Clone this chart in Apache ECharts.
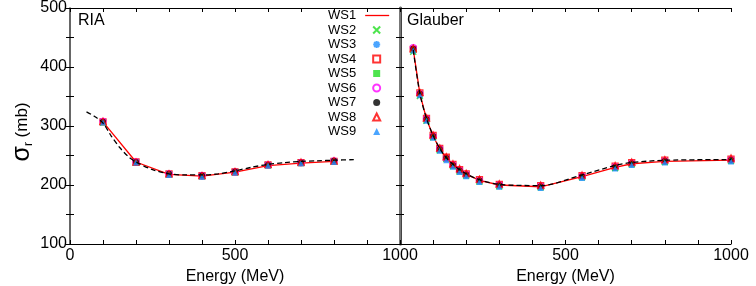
<!DOCTYPE html>
<html><head><meta charset="utf-8">
<script src="https://cdn.jsdelivr.net/npm/echarts@6/dist/echarts.min.js"></script>
<style>html,body{margin:0;padding:0;background:#fff}#c{width:756px;height:286px}</style>
</head><body><div id="c"></div>
<script>
// ---------- data ----------
const seriesNames = ['WS1','WS2','WS3','WS4','WS5','WS6','WS7','WS8','WS9'];
const panelTitles = ['RIA','Glauber'];
const xTitle = 'Energy (MeV)';
const yTickLabels = [100,200,300,400,500];
const leftXTickLabels = [0,500,1000];
const rightXTickLabels = [500,1000];

const riaEnergy = [100,200,300,400,500,600,700,800];
const riaWS1 = [307,239,218,215,222,233,237,240];
const riaWS2 = [306,238,218,215,222,234,238,240];
const riaWS3 = [307,238,218,214,221,233,237,239];
const riaWS4 = [307,239,219,216,222,234,238,240];
const riaWS5 = [306,238,218,215,221,233,237,240];
const riaWS6 = [308,239,219,216,222,234,238,241];
const riaWS7 = [307,239,219,216,223,234,238,241];
const riaWS8 = [308,239,219,216,223,235,239,241];
const riaWS9 = [306,238,217,214,221,233,237,239];

const riaDashEnergy = [50,75,100,125,150,175,200,250,300,350,400,450,500,550,600,650,700,750,800,860];
const riaDashValue  = [324,316,305,283,264,249,239,226,219,217,217,219,224,230,235,238,240,241,242,243];

const glEnergy = [40,60,80,100,120,140,160,180,200,240,300,425,550,650,700,800,1000];
const glWS1 = [430,355,312,283,261,246,234,225,218,208,200,197,214,230,236,240,242];
const glWS2 = [426,351,309,281,259,244,232,223,216,206,198,196,213,229,235,239,241];
const glWS3 = [432,354,311,282,260,244,233,224,216,206,198,196,213,229,235,239,241];
const glWS4 = [430,356,313,284,262,247,235,226,219,209,201,199,216,232,238,242,244];
const glWS5 = [429,353,310,281,259,244,232,223,216,206,198,196,213,229,235,239,241];
const glWS6 = [433,355,312,283,261,245,234,225,218,208,200,198,215,231,237,241,243];
const glWS7 = [431,355,312,283,261,246,234,225,218,208,200,198,215,231,237,241,243];
const glWS8 = [432,357,314,285,263,248,236,228,220,210,202,200,217,233,239,243,246];
const glWS9 = [428,352,309,280,258,242,231,222,215,205,197,195,212,228,234,238,240];

const glDashValue = [429,355,313,284,262,246,235,226,219,209,201,199,217,233,238,242,243];

// ---------- chart ----------
const FONT = 'Liberation Sans';
const RED = '#ff0000', GREEN = '#22dd22', BLUE = '#1e8fff', MAG = '#ff00ff';
const riaSets = [riaWS1,riaWS2,riaWS3,riaWS4,riaWS5,riaWS6,riaWS7,riaWS8,riaWS9];
const glSets = [glWS1,glWS2,glWS3,glWS4,glWS5,glWS6,glWS7,glWS8,glWS9];
const pair = (xs, ys) => xs.map((x, i) => [x, ys[i]]);

const markerStyles = {
  WS2: {symbol:'path://M0,0L10,10M10,0L0,10', itemStyle:{color:'rgba(0,0,0,0)', borderColor:GREEN, borderWidth:1.4}},
  WS3: {symbol:'path://M5,0L5,10M0,5L10,5M1.5,1.5L8.5,8.5M8.5,1.5L1.5,8.5', itemStyle:{color:'rgba(0,0,0,0)', borderColor:BLUE, borderWidth:1.6}},
  WS4: {symbol:'rect', itemStyle:{color:'rgba(255,255,255,0)', borderColor:RED, borderWidth:1.3}},
  WS5: {symbol:'rect', itemStyle:{color:GREEN}},
  WS6: {symbol:'circle', itemStyle:{color:'rgba(255,255,255,0)', borderColor:MAG, borderWidth:1.3}},
  WS7: {symbol:'circle', itemStyle:{color:'#000'}},
  WS8: {symbol:'triangle', itemStyle:{color:'rgba(255,255,255,0)', borderColor:RED, borderWidth:1.3}},
  WS9: {symbol:'triangle', itemStyle:{color:BLUE}}
};

const series = [];
[ [riaEnergy, riaSets, 0], [glEnergy, glSets, 2] ].forEach(([xs, sets, ax]) => {
  seriesNames.forEach((name, k) => {
    if (k === 0) {
      series.push({name, type:'line', xAxisIndex:ax, yAxisIndex:ax, data:pair(xs, sets[k]),
        symbol:'none', lineStyle:{color:RED, width:1.3}, itemStyle:{color:RED}, z:2});
    } else {
      const m = markerStyles[name];
      series.push({name, type:'scatter', xAxisIndex:ax, yAxisIndex:ax, data:pair(xs, sets[k]),
        symbol:m.symbol, symbolSize:6, itemStyle:m.itemStyle, z:3});
    }
  });
});
series.push({name:'dashRIA', type:'line', xAxisIndex:0, yAxisIndex:0, data:pair(riaDashEnergy, riaDashValue),
  symbol:'none', smooth:0.3, lineStyle:{color:'#000', width:1.3, type:[5,3]}, z:5});
series.push({name:'dashGl', type:'line', xAxisIndex:2, yAxisIndex:2, data:pair(glEnergy, glDashValue),
  symbol:'none', smooth:0.3, lineStyle:{color:'#000', width:1.3, type:[5,3]}, z:5});

const tick = {show:true, inside:true, length:4, lineStyle:{color:'#000', width:1}};
function xAx(grid, pos, labels, lineCol, lineW, withName) {
  return {type:'value', gridIndex:grid, position:pos, min:0, max:1000, interval:100,
    axisLine:{show:true, lineStyle:{color:lineCol, width:lineW}},
    axisTick:tick, splitLine:{show:false},
    axisLabel:{show:!!labels, interval:0, margin:4, fontFamily:FONT, fontSize:16, color:'#000',
      formatter: v => (labels && labels.includes(v)) ? String(v) : ''},
    name: withName ? xTitle : '', nameLocation:'middle', nameGap:22,
    nameTextStyle:{fontFamily:FONT, fontSize:16, color:'#000'}};
}
function yAx(grid, pos, labels, lineShow, lineCol, lineW) {
  return {type:'value', gridIndex:grid, position:pos, min:100, max:500, interval:50,
    axisLine:{show:lineShow, lineStyle:{color:lineCol, width:lineW}},
    axisTick:tick, splitLine:{show:false},
    axisLabel:{show:!!labels, margin:3, fontFamily:FONT, fontSize:16, color:'#000',
      formatter: v => (labels && labels.includes(v)) ? String(v) : ''}};
}

const legendText = {fontFamily:FONT, fontSize:13, color:'#000', lineHeight:13};
const option = {
  animation:false,
  backgroundColor:'#fff',
  grid:[
    {left:70, top:8, width:330, height:236, containLabel:false, outerBoundsMode:'none'},
    {left:400, top:8, width:331, height:236, containLabel:false, outerBoundsMode:'none'}
  ],
  xAxis:[
    xAx(0,'bottom',leftXTickLabels,'#000',1,true),
    xAx(0,'top',null,'#000',1,false),
    xAx(1,'bottom',rightXTickLabels,'#000',1,true),
    xAx(1,'top',null,'#000',1,false)
  ],
  yAxis:[
    yAx(0,'left',yTickLabels,true,'#333',1.5),
    yAx(0,'right',null,false,'#000',1),
    yAx(1,'left',null,true,'#444',3),
    yAx(1,'right',null,true,'#777',2)
  ],
  legend:[
    {orient:'vertical', left:328, top:9, align:'right', padding:0,
      itemWidth:24, itemHeight:1.3, itemGap:1.5,
      textStyle:Object.assign({padding:[0,4,0,0]}, legendText),
      data:[{name:seriesNames[0], icon:'rect', itemStyle:{color:RED}}]},
    {orient:'vertical', left:328, top:23.5, align:'right', padding:0,
      itemWidth:7, itemHeight:7, itemGap:1.5,
      textStyle:Object.assign({padding:[0,12,0,0]}, legendText),
      data:seriesNames.slice(1)}
  ],
  graphic:[
    {type:'text', left:78, top:13, style:{text:panelTitles[0], fontFamily:FONT, fontSize:16, fill:'#000'}},
    {type:'text', left:407, top:13, style:{text:panelTitles[1], fontFamily:FONT, fontSize:16, fill:'#000'}},
    {type:'text', x:22, y:132, rotation:Math.PI/2,
      style:{text:'{s|σ}{r|r}{t| (mb)}', align:'center', verticalAlign:'middle',
        rich:{s:{fontFamily:FONT, fontSize:25, fill:'#000', lineHeight:26},
              r:{fontFamily:FONT, fontSize:12, fill:'#000', verticalAlign:'bottom', lineHeight:26, padding:[10,0,0,0]},
              t:{fontFamily:FONT, fontSize:17, fill:'#000', lineHeight:26}}}}
  ],
  series
};
const chart = echarts.init(document.getElementById('c'), null, {renderer:'canvas'});
chart.setOption(option);
</script></body></html>
